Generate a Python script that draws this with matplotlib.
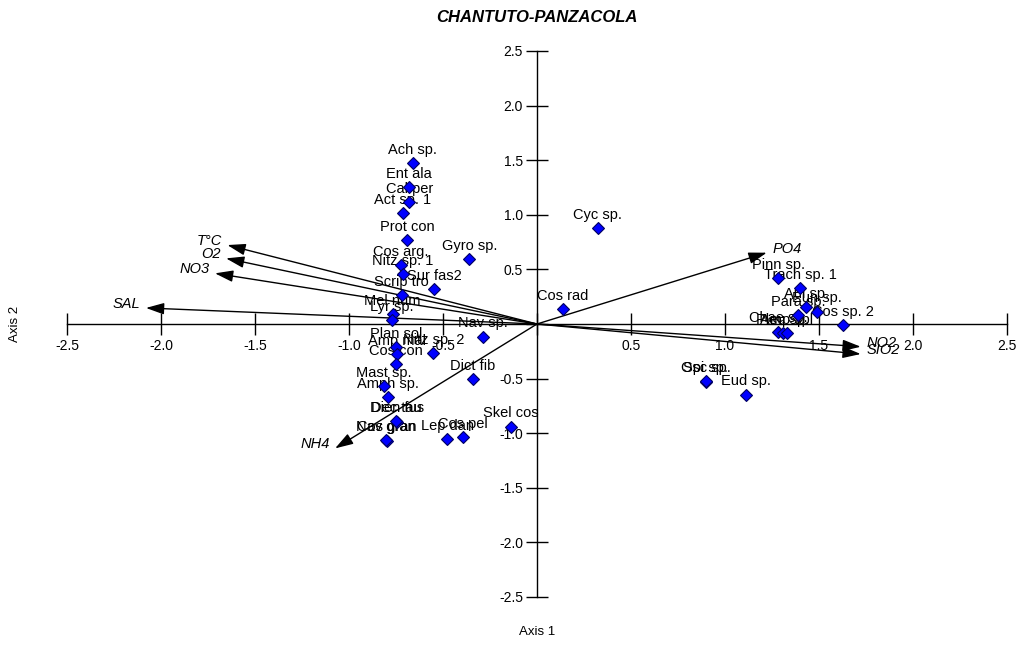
import matplotlib
matplotlib.use("Agg")
import matplotlib.pyplot as plt
from matplotlib.ticker import FuncFormatter, MultipleLocator

# ── CCA biplot scores ─────────────────────────────────────────────────────────

SPECIES = [
    "Ach sp.", "Ent ala", "Cal per", "Act sp. 1", "Prot con", "Gyro sp.",
    "Cos arg.", "Nitz sp. 1", "Sur fas2", "Scrip tro", "Mel num", "Lyr sp.",
    "Cyc sp.", "Cos rad", "Nav sp.", "Plan sol", "Amp mal", "Cos con",
    "Nitz sp. 2", "Dict fib", "Mast sp.", "Amph sp.", "Dien fus", "Dec tau",
    "Cos gran", "Nav gran", "Lep dan", "Cos pel", "Skel cos",
    "Pinn sp.", "Trach sp. 1", "Aul sp.", "Eun sp.", "Para sp.", "Cos sp. 2",
    "Chae sp.", "Pleu sp.", "Amp spl", "Osc sp.", "Spi sp.", "Eud sp.",
]
SP_X = [
    -0.662, -0.682, -0.679, -0.714, -0.690, -0.360,
    -0.725, -0.714, -0.546, -0.720, -0.768, -0.771,
    0.324, 0.138, -0.286, -0.750, -0.747, -0.750,
    -0.551, -0.342, -0.814, -0.791, -0.746, -0.749,
    -0.800, -0.803, -0.477, -0.395, -0.138,
    1.284, 1.399, 1.431, 1.491, 1.390, 1.626,
    1.284, 1.307, 1.328, 0.899, 0.897, 1.112,
]
SP_Y = [
    1.477, 1.252, 1.120, 1.019, 0.769, 0.592,
    0.540, 0.458, 0.323, 0.266, 0.092, 0.037,
    0.879, 0.137, -0.116, -0.208, -0.278, -0.369,
    -0.269, -0.507, -0.565, -0.671, -0.894, -0.890,
    -1.068, -1.060, -1.056, -1.038, -0.940,
    0.418, 0.327, 0.153, 0.113, 0.082, -0.009,
    -0.070, -0.085, -0.085, -0.528, -0.525, -0.647,
]

ENV = ["T°C", "O2", "NO3", "SAL", "PO4", "NO2", "SIO2", "NH4"]
ENV_X = [-1.647, -1.654, -1.713, -2.080, 1.222, 1.722, 1.722, -1.074]
ENV_Y = [0.723, 0.601, 0.464, 0.147, 0.653, -0.208, -0.275, -1.139]

TICKS = [-2.5, -2.0, -1.5, -1.0, -0.5, 0.0, 0.5, 1.0, 1.5, 2.0, 2.5]

# ── Figure ────────────────────────────────────────────────────────────────────

plt.rcParams["font.family"] = ["Liberation Sans", "DejaVu Sans"]

fig = plt.figure(figsize=(10.18, 6.45), dpi=100)
ax = fig.add_axes([67 / 1018, 48 / 645, 940 / 1018, 546 / 645])
ax.set_xlim(-2.5, 2.5)
ax.set_ylim(-2.5, 2.5)

# axes cross at the origin
ax.spines["left"].set_position(("data", 0))
ax.spines["bottom"].set_position(("data", 0))
ax.spines["top"].set_visible(False)
ax.spines["right"].set_visible(False)
for s in ("left", "bottom"):
    ax.spines[s].set_linewidth(1)

ax.set_xticks(TICKS)
ax.set_yticks(TICKS)
skip_zero = FuncFormatter(lambda v, _: "" if abs(v) < 1e-9 else f"{v:.1f}")
ax.xaxis.set_major_formatter(skip_zero)
ax.yaxis.set_major_formatter(skip_zero)
ax.tick_params(direction="inout", length=16, width=1, labelsize=10, pad=2)
ax.tick_params(axis="x", pad=3)

# environmental vectors
for name, ex, ey in zip(ENV, ENV_X, ENV_Y):
    ax.annotate("", xy=(ex, ey), xytext=(0, 0),
                arrowprops=dict(arrowstyle="-|>,head_length=1.1,head_width=0.35",
                                color="black", lw=1, shrinkA=0, shrinkB=0,
                                mutation_scale=10),
                zorder=2)
    side = -1 if ex < 0 else 1
    ax.annotate(name, (ex, ey), xytext=(4 * side, 3), textcoords="offset points",
                ha="right" if side < 0 else "left", va="center",
                style="italic", fontsize=10.5, zorder=2)

# species labels sit above their markers
for name, sx, sy in zip(SPECIES, SP_X, SP_Y):
    ax.annotate(name, (sx, sy), xytext=(0, 9.5), textcoords="offset points",
                ha="center", va="center", fontsize=10.5, zorder=3)

ax.plot(SP_X, SP_Y, linestyle="none", marker="D", markersize=6.5,
        markerfacecolor="#0000ff", markeredgecolor="#000060",
        markeredgewidth=0.8, zorder=4, clip_on=False)

fig.text(537 / 1018, 1 - 17 / 645, "CHANTUTO-PANZACOLA", ha="center", va="center",
         fontsize=12, fontweight="bold", style="italic")
fig.text(537 / 1018, 1 - 632 / 645, "Axis 1", ha="center", va="center", fontsize=9.5)
fig.text(15 / 1018, 1 - 324 / 645, "Axis 2", ha="center", va="center",
         rotation=90, fontsize=9.5)

fig.savefig("out.png", dpi=100)
